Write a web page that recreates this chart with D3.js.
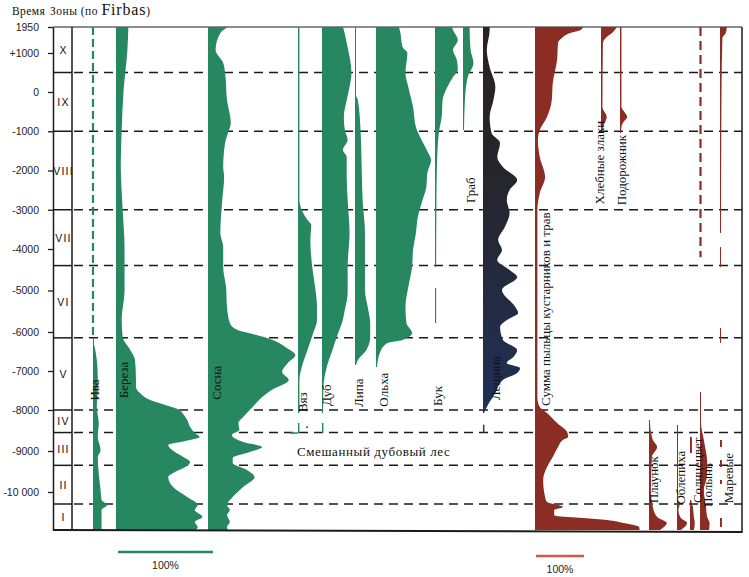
<!DOCTYPE html>
<html><head><meta charset="utf-8">
<script src="https://cdn.jsdelivr.net/npm/d3@7"></script>
<style>body{margin:0;background:#fff}</style>
</head><body><svg id="c" width="749" height="577"></svg>
<script>
// ---------------- DATA ----------------
const tickYears = [1950, 1000, 0, -1000, -2000, -3000, -4000, -5000, -6000, -7000, -8000, -9000, -10000];
const zoneNames = ["X", "IX", "VIII", "VII", "VI", "V", "IV", "III", "II", "I"];
const zoneBounds = [1950, 500, -1000, -3000, -4400, -6150, -8000, -8550, -9350, -10300, -10950];

// [year, percent]; null = gap
const iva = [[-6150,0],[-6300,1],[-6410,2],[-6720,4],[-7150,5],[-7490,5],[-7920,4],[-8320,6],[-8660,5],[-8980,8],[-9150,5],[-9540,6],[-9950,8],[-10200,9],[-10325,15],[-10450,9],[-10700,9],[-10880,9],[-10950,9]];
const ivaDashed = [1950, -6150];
const bereza = [[1950,13],[1110,12],[50,8],[-970,6],[-1860,5],[-3000,7],[-3950,9],[-5000,9],[-5700,6],[-6130,7],[-6460,15],[-6720,20],[-7230,21],[-7410,21],[-7560,25],[-7745,36],[-7870,52],[-8000,67],[-8050,69],[-8245,75],[-8415,78],[-8560,83],[-8660,88],[-8756,73],[-8854,55],[-9024,62],[-9146,71],[-9268,78],[-9390,73],[-9512,62],[-9634,55],[-9878,60],[-10125,75],[-10325,86],[-10450,83],[-10625,91],[-10750,83],[-10875,86],[-10950,84]];
const sosna = [[1950,21],[1730,13],[1110,8],[745,16],[490,18],[-205,20],[-790,24],[-1045,21],[-1300,18],[-1910,16],[-2165,17],[-2750,15],[-3590,13],[-3950,16],[-4435,16],[-4915,19],[-5400,20],[-5785,23],[-5950,31],[-6050,47],[-6205,68],[-6410,83],[-6590,92],[-6795,84],[-7026,78],[-7231,85],[-7487,67],[-7667,57],[-7923,47],[-8171,37],[-8317,32],[-8488,33],[-8610,25],[-8780,37],[-8902,57],[-9024,44],[-9171,26],[-9293,26],[-9463,41],[-9634,49],[-9878,37],[-10125,26],[-10325,20],[-10450,23],[-10575,20],[-10750,23],[-10875,20],[-10950,21]];
const vyaz = [[1950,1.5],[-2750,1.5],[-3005,4],[-3260,10],[-3390,14],[-3770,13],[-4434,15],[-4916,18],[-5398,20],[-5711,20],[-6026,16],[-6462,10],[-6897,4],[-7231,1.5],[-8075,1.5],[-8100,null],[-8317,1.5],[-8561,1.5]];
const dub = [[1950,22],[1840,23],[1365,26],[490,31],[130,29],[-205,26],[-635,23],[-970,24],[-1225,27],[-1480,22],[-1655,26],[-2165,26],[-2750,27],[-3590,29],[-4434,27],[-5060,27],[-5470,24],[-5783,21],[-6026,17],[-6462,11],[-6897,5],[-7410,1.5],[-8075,1],[-8100,null],[-8317,1.5],[-8561,1.5]];
const lipa = [[1950,1],[-75,1],[-205,3],[-1045,6],[-1910,7],[-2750,8],[-3590,10.5],[-4434,10.5],[-4988,10.5],[-5470,14],[-5783,16],[-6128,16],[-6462,12],[-6718,3],[-6846,0]];
const olkha = [[1950,24],[1840,25],[1220,28],[1000,33],[490,31],[130,34],[-380,39],[-890,42],[-1225,48],[-1555,55],[-1730,58],[-2065,54],[-2420,53],[-2750,49],[-3185,44],[-3590,42],[-4024,39],[-4434,38],[-4916,34],[-5398,31],[-5783,32],[-6026,38],[-6150,33],[-6205,28],[-6282,12],[-6538,4],[-6897,0]];
const buk = [[1950,18],[1840,19],[1475,24],[1110,19],[820,23],[565,24],[385,19],[130,13],[-205,8],[-635,7],[-1045,4],[-1910,2],[-2750,1.5],[-4434,1.2],[-4500,null],[-4940,1.2],[-5783,1.2]];
const grab = [[1950,7],[1840,7],[1110,8],[745,11],[385,5],[-205,2],[-970,0.3]];
const leshchina = [[1950,7],[1840,7],[1110,4],[640,7],[130,13],[-205,11],[-635,7],[-1045,9],[-1300,18],[-1655,15],[-1910,21],[-2240,36],[-2495,28],[-2750,25],[-3080,28],[-3440,23],[-3770,16],[-4024,20],[-4265,15],[-4506,28],[-4675,36],[-4988,20],[-5398,34],[-5542,37],[-5711,25],[-5880,18],[-6205,21],[-6462,36],[-6641,32],[-6795,25],[-6923,39],[-7051,36],[-7231,21],[-7564,13],[-7923,4],[-8075,0],[-8100,null],[-8360,1.5],[-8561,1.5]];
const summa = [[1950,100],[1840,95],[1730,73],[1550,56],[1365,48],[820,46],[230,37],[-205,35],[-635,25],[-970,10],[-1225,6],[-1655,10],[-2165,21],[-2575,10],[-3005,5],[-4000,5],[-6000,5],[-7700,5],[-7923,10],[-8075,25],[-8317,46],[-8537,67],[-8659,69],[-8732,58],[-8902,48],[-9146,37],[-9390,25],[-9707,17],[-10125,21],[-10250,25],[-10375,58],[-10450,40],[-10575,40],[-10600,45],[-10650,100],[-10700,150],[-10775,185],[-10875,217],[-10950,218]];
const zlaki = [[1950,33],[1730,23],[1585,12],[1365,4],[-380,3],[-635,12],[-890,4],[-1045,1]];
const podorozhnik = [[1950,3],[-380,3],[-520,10],[-635,15],[-750,8],[-890,3],[-1045,2]];
const marevye = [[1950,14],[1730,12],[1550,5],[-205,3],[-3590,2],[-3700,null],[-3950,2],[-4434,2],[-4500,null],[-5905,2],[-6282,2],[-6300,null],[-8732,4],[-8902,4],[-8950,null],[-9220,4],[-9390,4],[-9450,null],[-9707,4],[-9805,4],[-9900,null],[-10650,4],[-10875,4]];
const polyn = [[-7540,0.5],[-8317,2],[-8732,8],[-9293,15],[-9634,14],[-9951,8],[-10375,12.5],[-10625,15],[-10775,20],[-10950,19]];
const polynDashed = [1950, -4200];
const plaunok = [[-8244,0],[-8317,2],[-8600,5],[-8732,8],[-8902,17],[-9146,6],[-9951,4],[-10375,8],[-10625,17],[-10775,37],[-10950,23]];
const oblepikha = [[-8366,1],[-9000,2],[-10200,2],[-10275,6],[-10450,3],[-10650,8],[-10775,21],[-10950,8]];
const solntsetsvet = [[-8659,4],[-9050,4],[-9100,null],[-10200,1],[-10375,6],[-10625,8],[-10775,10],[-10950,8]];
const mixedOakLabel = "Смешанный дубовый лес";

// ---------------- LAYOUT / STYLE ----------------
const GREEN = "#268760", RED = "#8c2d23", LINE = "#1b1b1b";
const svg = d3.select("#c");
const y = d3.scaleLinear()
  .domain([1950, 1000, 0, -4000, -6000, -8000, -10000, -10950])
  .range([27, 53, 92, 249, 332, 410, 492, 530]);
const xLeft = 53, xZone = 72, xRight = 742;
const serif = "'Liberation Serif','DejaVu Serif',serif";
const sans = "'Liberation Sans',Arial,sans-serif";

const defs = svg.append("defs");
const grad = defs.append("linearGradient").attr("id", "lesh")
  .attr("gradientUnits", "userSpaceOnUse").attr("x1", 0).attr("x2", 0)
  .attr("y1", y(1950)).attr("y2", y(-8075));
grad.append("stop").attr("offset", 0).attr("stop-color", "#2c211f");
grad.append("stop").attr("offset", 0.45).attr("stop-color", "#25262f");
grad.append("stop").attr("offset", 1).attr("stop-color", "#1f3157");

// header
svg.append("text").attr("x", 12).attr("y", 15).attr("font-family", serif)
  .attr("font-size", 11.5).attr("letter-spacing", 0.4).attr("fill", "#111").text("Время");
const h2 = svg.append("text").attr("x", 50).attr("y", 15).attr("font-family", serif)
  .attr("font-size", 11.5).attr("letter-spacing", 0.5).attr("fill", "#111");
h2.append("tspan").text("Зоны (по ");
h2.append("tspan").attr("font-size", 16).attr("letter-spacing", 0.8).text("Firbas");
h2.append("tspan").text(")");

// zone dashed lines
const inner = zoneBounds.slice(1, -1);
svg.append("g").selectAll("line").data(inner).join("line")
  .attr("x1", xZone + 2).attr("x2", xRight).attr("y1", d => y(d)).attr("y2", d => y(d))
  .attr("stroke", LINE).attr("stroke-width", 1.5).attr("stroke-dasharray", "9,6");
svg.append("g").selectAll("line").data(inner).join("line")
  .attr("x1", xLeft).attr("x2", xZone).attr("y1", d => y(d)).attr("y2", d => y(d))
  .attr("stroke", LINE).attr("stroke-width", 1.5);

// zone labels
svg.append("g").selectAll("text").data(zoneNames).join("text")
  .attr("x", (xLeft + xZone) / 2 + 1)
  .attr("y", (d, i) => (y(zoneBounds[i]) + y(zoneBounds[i + 1])) / 2)
  .attr("text-anchor", "middle").attr("dominant-baseline", "central")
  .attr("font-family", sans).attr("font-size", 10.5).attr("letter-spacing", 1.2)
  .attr("fill", "#111").text(d => d);

// axis
const fmt = d => d === 1950 ? "1950" : d > 0 ? "+" + d : d === 0 ? "0" :
  (d <= -10000 ? "-" + d3.format(",")(-d).replace(",", " ") : "-" + (-d));
const ax = svg.append("g").attr("transform", `translate(${xLeft},0)`)
  .call(d3.axisLeft(y).tickValues(tickYears).tickFormat(fmt).tickSize(5).tickSizeOuter(0).tickPadding(9));
ax.select(".domain").attr("stroke", LINE).attr("stroke-width", 1.5);
ax.selectAll(".tick line").attr("stroke", LINE).attr("stroke-width", 1.3);
ax.selectAll(".tick text").attr("font-family", sans).attr("font-size", 10.5).attr("fill", "#222");

// frame
svg.append("line").attr("x1", xZone).attr("x2", xZone).attr("y1", y(1950)).attr("y2", y(-10950)).attr("stroke", LINE).attr("stroke-width", 1.5);
svg.append("line").attr("x1", xLeft).attr("x2", xRight).attr("y1", y(1950)).attr("y2", y(1950)).attr("stroke", LINE).attr("stroke-width", 1);
svg.append("line").attr("x1", xRight).attr("x2", xRight).attr("y1", y(1950)).attr("y2", y(-10950) + 3).attr("stroke", LINE).attr("stroke-width", 1.5);

// dashed taxon traces
function dashedTrace(base, span, color, dash) {
  svg.append("line").attr("x1", base + 1).attr("x2", base + 1)
    .attr("y1", y(span[0])).attr("y2", y(span[1]))
    .attr("stroke", color).attr("stroke-width", 2.2).attr("stroke-dasharray", dash);
}
dashedTrace(92, ivaDashed, GREEN, "8,4");
dashedTrace(699.5, polynDashed, RED, "9,5");

// taxa
const taxa = [
  {name: "Ива", data: iva, base: 93, unit: 95, fill: GREEN, lx: 1, ly: -7487},
  {name: "Береза", data: bereza, base: 116, unit: 95, fill: GREEN, lx: 7, ly: -7231},
  {name: "Сосна", data: sosna, base: 208, unit: 95, fill: GREEN, lx: 8, ly: -7300},
  {name: "Вяз", data: vyaz, base: 298, unit: 95, fill: GREEN, lx: 4, ly: -7800},
  {name: "Дуб", data: dub, base: 322, unit: 95, fill: GREEN, lx: 4, ly: -7620},
  {name: "Липа", data: lipa, base: 355, unit: 95, fill: GREEN, lx: 3, ly: -7560},
  {name: "Ольха", data: olkha, base: 376, unit: 95, fill: GREEN, lx: 7, ly: -7480},
  {name: "Бук", data: buk, base: 435, unit: 95, fill: GREEN, lx: 2, ly: -7640},
  {name: "Граб", data: grab, base: 463, unit: 95, fill: GREEN, lx: 7, ly: -2500},
  {name: "Лещина", data: leshchina, base: 483, unit: 95, fill: "url(#lesh)", lx: 12, ly: -7180},
  {name: "Сумма пыльцы кустарников и трав", data: summa, base: 535, unit: 48, fill: RED, lx: 10, ly: -5450},
  {name: "Хлебные злаки", data: zlaki, base: 601, unit: 48, fill: RED, lx: -2, ly: -1800},
  {name: "Подорожник", data: podorozhnik, base: 620, unit: 48, fill: RED, lx: 1, ly: -1990},
  {name: "Плаунок", data: plaunok, base: 649, unit: 48, fill: RED, lx: 4, ly: -9700},
  {name: "Облепиха", data: oblepikha, base: 677, unit: 48, fill: RED, lx: 3, ly: -9650},
  {name: "Солнцецвет", data: solntsetsvet, base: 690, unit: 48, fill: RED, lx: 7, ly: -9470},
  {name: "Полынь", data: polyn, base: 700, unit: 48, fill: RED, lx: 7, ly: -9830},
  {name: "Маревые", data: marevye, base: 720, unit: 48, fill: RED, lx: 8, ly: -9660}
];

taxa.forEach(t => {
  const x = d3.scaleLinear().domain([0, 100]).range([t.base, t.base + t.unit]);
  const area = d3.area()
    .defined(d => d[1] !== null)
    .y(d => y(d[0])).x0(x(0)).x1(d => Math.max(x(d[1]), x(0) + 1))
    .curve(d3.curveMonotoneY);
  svg.append("path").datum(t.data).attr("d", area).attr("fill", t.fill);
});

// mixed oak forest bracket marks
svg.append("path").attr("d", `M${290},${y(-8561)}H${298}`).attr("stroke", GREEN).attr("stroke-width", 1.5);
svg.append("circle").attr("cx", 307).attr("cy", y(-8420)).attr("r", 0.9).attr("fill", "#333");

// labels
svg.append("g").selectAll("text").data(taxa).join("text")
  .attr("transform", t => `translate(${t.base + t.lx},${y(t.ly)}) rotate(-90)`)
  .attr("text-anchor", "middle").attr("dominant-baseline", "central")
  .attr("font-family", serif).attr("font-size", 13).attr("fill", "#111")
  .text(t => t.name);

svg.append("text").attr("x", 297).attr("y", y(-9000) + 5)
  .attr("font-family", serif).attr("font-size", 13).attr("letter-spacing", 0.6)
  .attr("fill", "#111").text(mixedOakLabel);

// bottom line
svg.append("line").attr("x1", xLeft).attr("x2", xRight).attr("y1", y(-10950)).attr("y2", y(-10950) + 2)
  .attr("stroke", LINE).attr("stroke-width", 2);

// 100% scale bars
function scaleBar(x0, unit, yy, color) {
  const s = d3.scaleLinear().domain([0, 100]).range([x0, x0 + unit]);
  svg.append("line").attr("x1", s(0)).attr("x2", s(100)).attr("y1", yy).attr("y2", yy)
    .attr("stroke", color).attr("stroke-width", 2.5);
  svg.append("text").attr("x", s(50)).attr("y", yy + 17).attr("text-anchor", "middle")
    .attr("font-family", sans).attr("font-size", 10.5).attr("fill", "#222").text("100%");
}
scaleBar(118, 95, 552, GREEN);
scaleBar(536, 48, 556, "#d55a44");
</script>
</body></html>
